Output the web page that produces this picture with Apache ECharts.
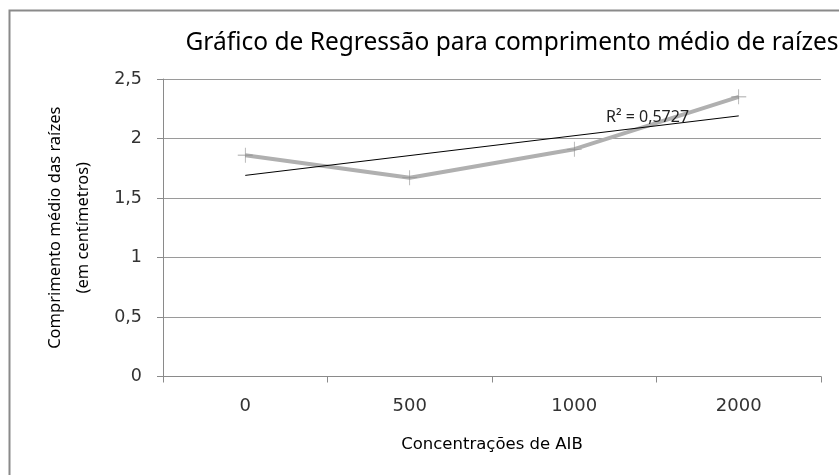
<!DOCTYPE html>
<html><head><meta charset="utf-8">
<script src="https://cdn.jsdelivr.net/npm/echarts@6/dist/echarts.min.js"></script>
<style>html,body{margin:0;padding:0;background:#fff}#c{width:839px;height:475px}</style>
</head><body><div id="c"></div>
<script>
var categories = ['0', '500', '1000', '2000'];
var lengths = [1.86, 1.67, 1.91, 2.35];
var trendEnds = [1.69, 2.19];
var yTicks = [0, 0.5, 1, 1.5, 2, 2.5];
var titleText = 'Gráfico de Regressão para comprimento médio de raízes';
var r2Text = 'R² = 0,5727';

var FONT = '"Noto Sans", "DejaVu Sans", sans-serif';
var WIDE = '"DejaVu Sans", "Noto Sans", sans-serif';
var chart = echarts.init(document.getElementById('c'), null, {renderer: 'canvas'});
var plus = 'path://M9.6,0H10.4V9.6H20V10.4H10.4V20H9.6V10.4H0V9.6H9.6Z';
chart.setOption({
  animation: false,
  backgroundColor: '#fff',
  title: {
    text: titleText, left: 507, textAlign: 'center', top: 26,
    textStyle: {fontFamily: FONT, fontSize: 24.5, fontWeight: 'normal', color: '#000'}
  },
  grid: {left: 163, right: 18, top: 79, bottom: 98.5, containLabel: false},
  xAxis: {
    type: 'category', data: categories, boundaryGap: true,
    axisLine: {lineStyle: {color: '#8a8a8a', width: 1}},
    axisTick: {show: true, length: 6, lineStyle: {color: '#8a8a8a'}},
    axisLabel: {margin: 21, fontFamily: WIDE, fontSize: 18, color: '#333'},
    name: 'Concentrações de AIB', nameLocation: 'middle', nameGap: 60,
    nameTextStyle: {fontFamily: WIDE, fontSize: 16.5, color: '#000'}
  },
  yAxis: {
    type: 'value', min: yTicks[0], max: yTicks[yTicks.length - 1], interval: 0.5,
    axisLine: {show: true, lineStyle: {color: '#8a8a8a'}},
    axisTick: {show: true, length: 6, lineStyle: {color: '#8a8a8a'}},
    splitLine: {lineStyle: {color: '#9a9a9a', width: 1}},
    axisLabel: {margin: 21, fontFamily: WIDE, fontSize: 17.5, color: '#333',
      formatter: function (v) { return String(v).replace('.', ','); }},
    name: 'Comprimento médio das raízes\n(em centímetros)', nameLocation: 'middle', nameGap: 94, nameRotate: 90,
    nameTextStyle: {fontFamily: FONT, fontSize: 16.5, color: '#000', lineHeight: 28, verticalAlign: 'middle'}
  },
  series: [
    {
      type: 'line', data: lengths, symbol: plus, symbolSize: 15,
      lineStyle: {color: '#b0b0b0', width: 4},
      itemStyle: {color: '#8c8c8c'}, z: 2
    },
    {
      type: 'line', data: [[0, trendEnds[0]], [categories.length - 1, trendEnds[1]]],
      symbol: 'none', lineStyle: {color: '#000', width: 1}, z: 3
    }
  ],
  graphic: [
    {type: 'rect', shape: {x: 9.5, y: 10.5, width: 1000, height: 700}, style: {fill: 'none', stroke: '#8a8a8a', lineWidth: 2}, z: 100},
    {type: 'text', left: 606, top: 109, style: {text: r2Text, fontFamily: FONT, fontSize: 16, fill: '#222'}, z: 100}
  ]
});
</script></body></html>
